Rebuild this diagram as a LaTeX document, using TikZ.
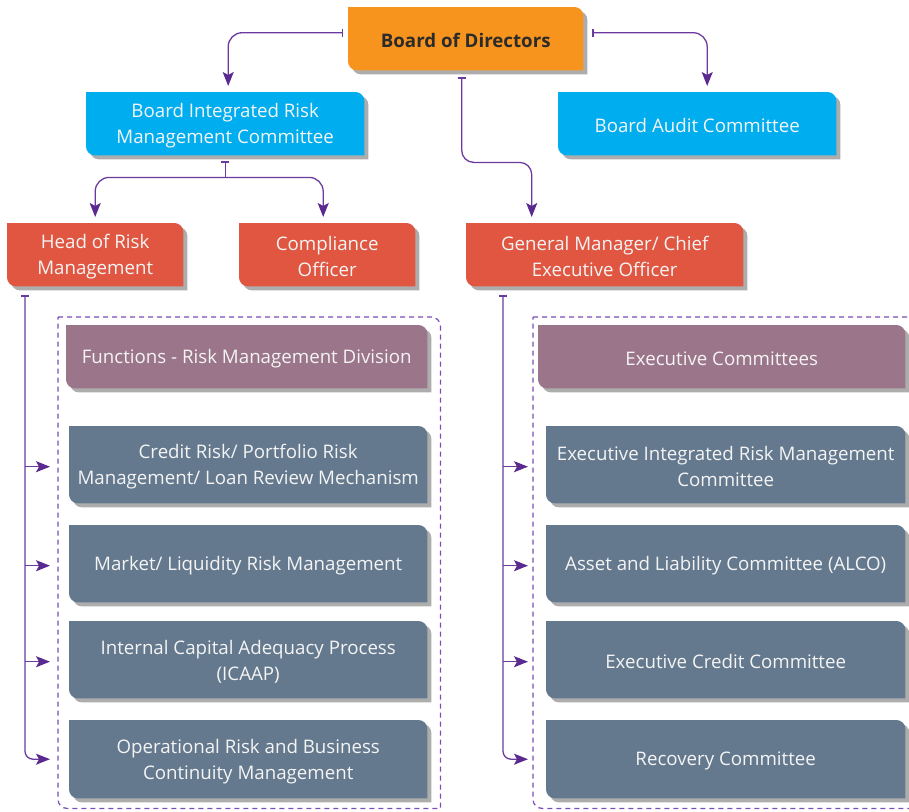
\documentclass[tikz,border=0pt]{standalone}
\usepackage{fontspec}
\setmainfont{Open Sans}
\usetikzlibrary{arrows.meta,calc}
\definecolor{cOrange}{HTML}{F7941D}
\definecolor{cCyan}{HTML}{00AEEF}
\definecolor{cRed}{HTML}{E05641}
\definecolor{cMauve}{HTML}{9B7589}
\definecolor{cSlate}{HTML}{64798E}
\definecolor{cShadow}{HTML}{ADADAD}
\definecolor{cLine}{HTML}{6A3A9E}
\definecolor{cArrow}{HTML}{5B2A8E}
\definecolor{cFrame}{HTML}{7A4CB8}
\definecolor{cTitle}{HTML}{2B2B2B}
\definecolor{cText}{HTML}{F4F4F4}
\pgfdeclarelayer{background}
\pgfsetlayers{background,main}
\newcommand\cutshape[4]{%
  \path[#1] let \p1=(#2.north west), \p2=(#2.south east) in
  ({\x1+#3},{\y1-#4}) -- ({\x2-9pt+#3},{\y1-#4}) arc[start angle=90,end angle=0,radius=9pt]
  -- ({\x2+#3},{\y2-#4}) -- ({\x1+9pt+#3},{\y2-#4}) arc[start angle=270,end angle=180,radius=9pt] -- cycle;}
% card nodes are placed 2pt low so that their text sits as in the reference; the shapes are lifted back
\newcommand\cardbg[2]{\cutshape{fill=cShadow}{#1}{4pt}{2pt}\cutshape{fill=#2}{#1}{0pt}{-2pt}}
\tikzset{
  card/.style={anchor=north west, inner sep=0pt, align=center, text=cText, yshift=-2pt,
    font=\fontsize{18.7}{26}\selectfont},
  frame/.style={anchor=north west, inner sep=0pt},
  conn/.style={draw=cLine, line width=1.3pt,
    {Bar[width=8pt,line width=1.3pt]}-{Stealth[length=14pt,width=11pt,inset=3pt,color=cArrow]},
    shorten >=6pt},
  connstub/.style={draw=cLine, line width=1.3pt, {Bar[width=8pt,line width=1.3pt]}-},
  connarrow/.style={draw=cLine, line width=1.3pt,
    -{Stealth[length=14pt,width=11pt,inset=3pt,color=cArrow]}, shorten >=6pt},
}
\begin{document}
\begin{tikzpicture}[x=1pt,y=-1pt]
\useasboundingbox (0,0) rectangle (909,811);
% top level
\node[card, text=cTitle, font=\fontsize{18.7}{26}\selectfont\bfseries, minimum width=235pt, minimum height=63pt] (bod) at (348,7) {Board of Directors};
\node[card, minimum width=278pt, minimum height=63pt] (birmc) at (86,92) {Board Integrated Risk\\Management Committee};
\node[card, minimum width=278pt, minimum height=63pt] (bac) at (558,92) {Board Audit Committee};
\node[card, minimum width=176pt, minimum height=63pt] (hrm) at (7,223) {Head of Risk\\Management};
\node[card, minimum width=176pt, minimum height=63pt] (comp) at (239,223) {Compliance\\Officer};
\node[card, minimum width=277pt, minimum height=63pt] (gm) at (466,223) {General Manager/ Chief\\Executive Officer};
% frames
\node[frame, minimum width=382pt, minimum height=491pt] (frameL) at (58,317) {};
\node[frame, minimum width=400pt, minimum height=491pt] (frameR) at (533,317) {};
% left column
\node[card, minimum width=361pt, minimum height=63pt] (func) at (66,325) {Functions - Risk Management Division};
\node[card, minimum width=358pt, minimum height=77pt] (cred) at (69,426) {Credit Risk/ Portfolio Risk\\Management/ Loan Review Mechanism};
\node[card, minimum width=358pt, minimum height=77pt] (mkt) at (69,525) {Market/ Liquidity Risk Management};
\node[card, minimum width=358pt, minimum height=77pt] (icaap) at (69,621) {Internal Capital Adequacy Process\\(ICAAP)};
\node[card, minimum width=358pt, minimum height=78pt] (op) at (69,720) {Operational Risk and Business\\Continuity Management};
% right column
\node[card, minimum width=367pt, minimum height=63pt] (exco) at (538,325) {Executive Committees};
\node[card, minimum width=359pt, minimum height=77pt] (eirmc) at (546,426) {Executive Integrated Risk Management\\Committee};
\node[card, minimum width=359pt, minimum height=77pt] (alco) at (546,525) {Asset and Liability Committee (ALCO)};
\node[card, minimum width=359pt, minimum height=77pt] (ecc) at (546,621) {Executive Credit Committee};
\node[card, minimum width=359pt, minimum height=78pt] (rec) at (546,720) {Recovery Committee};

\begin{pgfonlayer}{background}
\cardbg{bod}{cOrange}
\cardbg{birmc}{cCyan}
\cardbg{bac}{cCyan}
\cardbg{hrm}{cRed}
\cardbg{comp}{cRed}
\cardbg{gm}{cRed}
\cardbg{func}{cMauve}
\cardbg{exco}{cMauve}
\cardbg{cred}{cSlate}
\cardbg{mkt}{cSlate}
\cardbg{icaap}{cSlate}
\cardbg{op}{cSlate}
\cardbg{eirmc}{cSlate}
\cardbg{alco}{cSlate}
\cardbg{ecc}{cSlate}
\cardbg{rec}{cSlate}
\cutshape{draw=cFrame, line width=1.2pt, dash pattern=on 5pt off 4pt}{frameL}{0pt}{0pt}
\cutshape{draw=cFrame, line width=1.2pt, dash pattern=on 5pt off 4pt}{frameR}{0pt}{0pt}
\end{pgfonlayer}

% connectors from board
\draw[conn, rounded corners=14pt] ([xshift=-5pt,yshift=8pt]bod.west) -| ([xshift=3pt,yshift=2pt]birmc.north);
\draw[conn, rounded corners=14pt] ([xshift=9pt,yshift=8pt]bod.east) -| ([xshift=10pt,yshift=2pt]bac.north);
\draw[conn, rounded corners=12pt] ([xshift=-4pt,yshift=-5pt]bod.south) -- ++(0,85) -| ([xshift=-73pt,yshift=2pt]gm.north);
% BIRMC
\coordinate (bj) at ([yshift=-20pt]birmc.south);
\draw[connstub] ([yshift=-4pt]birmc.south) -- (bj);
\draw[connarrow, rounded corners=14pt] (bj) -| ([yshift=2pt]hrm.north);
\draw[connarrow, rounded corners=14pt] (bj) -| ([xshift=-4pt,yshift=2pt]comp.north);
% HRM
\coordinate (ht) at ([xshift=18pt,yshift=-7pt]hrm.south west);
\draw[conn, rounded corners=8pt, shorten >=19pt] (ht) |- ([yshift=2pt]op.west);
\draw[connarrow, shorten >=19pt] (ht |- cred.west) -- (cred.west);
\draw[connarrow, shorten >=19pt] (ht |- mkt.west) -- (mkt.west);
\draw[connarrow, shorten >=19pt] (ht |- icaap.west) -- (icaap.west);
% GM
\coordinate (gt) at ([xshift=37pt,yshift=-7pt]gm.south west);
\draw[conn, rounded corners=8pt, shorten >=18pt] (gt) |- ([yshift=2pt]rec.west);
\draw[connarrow, shorten >=18pt] (gt |- eirmc.west) -- (eirmc.west);
\draw[connarrow, shorten >=18pt] (gt |- alco.west) -- (alco.west);
\draw[connarrow, shorten >=18pt] (gt |- ecc.west) -- (ecc.west);
\end{tikzpicture}
\end{document}
